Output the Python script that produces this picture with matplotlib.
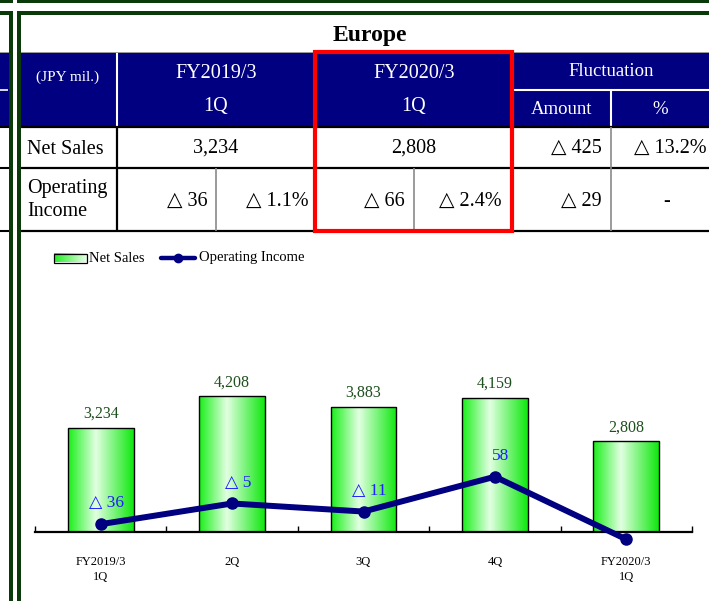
import numpy as np
import matplotlib
matplotlib.use("Agg")
import matplotlib.pyplot as plt
from matplotlib.colors import LinearSegmentedColormap
from matplotlib.patches import Rectangle

plt.rcParams['font.family'] = ['Liberation Serif', 'DejaVu Serif']

# ---------------- data ----------------
categories = ["FY2019/3\n1Q", "2Q", "3Q", "4Q", "FY2020/3\n1Q"]
net_sales = [3234, 4208, 3883, 4159, 2808]
operating_income = [-36, 5, -11, 58, -66]
net_sales_labels = ["3,234", "4,208", "3,883", "4,159", "2,808"]
oi_labels = ["△ 36", "△ 5", "△ 11", "58", "△ 66"]

title = "Europe"
table_unit = "(JPY mil.)"
col_prev = ["FY2019/3", "1Q"]
col_curr = ["FY2020/3", "1Q"]
col_fluct = "Fluctuation"
col_fluct_sub = ["Amount", "%"]
row_names = ["Net Sales", "Operating\nIncome"]
net_sales_row = ["3,234", "2,808", "△ 425", "△ 13.2%"]
oi_row = ["△ 36", "△ 1.1%", "△ 66", "△ 2.4%", "△ 29", "-"]

W, H = 709, 601
fig = plt.figure(figsize=(W / 100, H / 100), dpi=100)

# ---------------- overlay (table, frame, legend) ----------------
ov = fig.add_axes([0, 0, 1, 1], zorder=0)
ov.set_xlim(0, W)
ov.set_ylim(H, 0)
ov.axis('off')

DG = '#0a3a0a'
NAVY = '#000080'

def rect(x0, y0, x1, y1, fc, ec='none', lw=0, z=1):
    ov.add_patch(Rectangle((x0, y0), x1 - x0, y1 - y0, facecolor=fc,
                           edgecolor=ec, linewidth=lw, zorder=z))

def hline(y, x0, x1, c, lw, z=2):
    ov.plot([x0, x1], [y, y], color=c, lw=lw, solid_capstyle='butt', zorder=z)

def vline(x, y0, y1, c, lw, z=2):
    ov.plot([x, x], [y0, y1], color=c, lw=lw, solid_capstyle='butt', zorder=z)

# panel frames
rect(0, 0, 12.5, 3, DG)
rect(17, 0, W, 3, DG)
rect(0, 10.5, 12.5, 15, DG)
rect(17, 10.5, W, 15, DG)
rect(9, 10.5, 12.5, H, DG)
rect(17, 10.5, 21, H, DG)

# left partial panel table
rect(0, 51.5, 9, 53, '#9a9a9a')
rect(0, 53, 9, 126, NAVY)
hline(89.5, 0, 8, 'white', 1.2)
for yy in (127, 167.5, 230.5):
    hline(yy, 0, 9, 'black', 1.5)

# title
ov.text(370, 35, title, ha='center', va='center', fontsize=17,
        fontweight='bold', color='black')

# table header
rect(21, 51.5, W, 53, '#9a9a9a')
rect(21, 53, W, 126, NAVY)
vline(117, 53, 126, 'white', 1.5)
hline(89.5, 513, W, 'white', 1.5)
vline(611, 89.5, 126, 'white', 1.5)

ov.text(68, 77, table_unit, ha='center', va='center', fontsize=11, color='white')
ov.text(216, 73, col_prev[0], ha='center', va='center', fontsize=14.5, color='white')
ov.text(216, 106, col_prev[1], ha='center', va='center', fontsize=14.5, color='white')
ov.text(414, 73, col_curr[0], ha='center', va='center', fontsize=14.5, color='white')
ov.text(414, 106, col_curr[1], ha='center', va='center', fontsize=14.5, color='white')
ov.text(611, 72, col_fluct, ha='center', va='center', fontsize=13.5, color='white')
ov.text(562, 110, col_fluct_sub[0], ha='center', va='center', fontsize=13.5, color='white')
ov.text(660, 110, col_fluct_sub[1], ha='center', va='center', fontsize=13.5, color='white')

# table grid
for yy in (127, 167.5, 230.5):
    hline(yy, 21, W, 'black', 1.6)
vline(117, 127, 230.5, 'black', 1.6)
vline(216, 167.5, 230.5, '#8a8a8a', 1.2)
vline(414, 167.5, 230.5, '#8a8a8a', 1.2)
vline(611, 127, 230.5, '#8a8a8a', 1.2)

# table body text
ov.text(27, 149, row_names[0], ha='left', va='center', fontsize=14.5)
ov.text(27, 200, row_names[1], ha='left', va='center', fontsize=14.5, linespacing=1.25)
ov.text(216, 148, net_sales_row[0], ha='center', va='center', fontsize=14.5)
ov.text(414, 148, net_sales_row[1], ha='center', va='center', fontsize=14.5)
ov.text(602, 148, net_sales_row[2], ha='right', va='center', fontsize=14.5)
ov.text(707, 148, net_sales_row[3], ha='right', va='center', fontsize=14.5)
oi_x = [208, 309, 405, 502, 602]
for xx, s in zip(oi_x, oi_row[:5]):
    ov.text(xx, 201, s, ha='right', va='center', fontsize=14.5)
ov.text(667, 201, oi_row[5], ha='center', va='center', fontsize=14.5)

# red highlight box
ov.add_patch(Rectangle((315, 51.5), 197, 179, facecolor='none',
                       edgecolor='#ff0000', linewidth=3, zorder=5))

# legend
leg_cmap = LinearSegmentedColormap.from_list('lg', ['#22ee22', '#e8ffe8'])
ov.imshow(np.linspace(0, 1, 64)[None, :], cmap=leg_cmap, aspect='auto',
          extent=[54, 87, 262.5, 253.5], zorder=3)
ov.add_patch(Rectangle((54, 253.5), 33, 9, facecolor='none', edgecolor='black',
                       linewidth=0.9, zorder=4))
ov.text(89, 258, "Net Sales", ha='left', va='center', fontsize=10.5)
ov.plot([161, 195], [258, 258], color=NAVY, lw=3.2, solid_capstyle='round', zorder=3)
ov.plot([178], [258], 'o', color=NAVY, ms=6, zorder=4)
ov.text(199, 258, "Operating Income", ha='left', va='center', fontsize=10.5)
ov.set_xlim(0, W)
ov.set_ylim(H, 0)

# ---------------- chart ----------------
left_px, right_px, bottom_px, top_px = 35, 692, 532, 290
ax = fig.add_axes([left_px / W, (H - bottom_px) / H,
                   (right_px - left_px) / W, (bottom_px - top_px) / H], zorder=2)
ax.set_facecolor('none')
x = np.arange(len(categories))
bar_w = 0.5
ymax = (bottom_px - top_px) / 0.0323
ax.set_xlim(-0.5, len(categories) - 0.5)
ax.set_ylim(0, ymax)

bar_cmap = LinearSegmentedColormap.from_list(
    'bg', [(0, '#19f019'), (0.42, '#e2ffe2'), (1, '#10e810')])
grad = np.linspace(0, 1, 128)[None, :]
bars = ax.bar(x, net_sales, width=bar_w, facecolor='none', edgecolor='black',
              linewidth=1.0, zorder=3)
for b in bars:
    im = ax.imshow(grad, cmap=bar_cmap, aspect='auto', zorder=2,
                   extent=[b.get_x(), b.get_x() + b.get_width(), 0, b.get_height()])
    im.set_clip_path(b)
ax.set_xlim(-0.5, len(categories) - 0.5)
ax.set_ylim(0, ymax)

for xi, v, s in zip(x, net_sales, net_sales_labels):
    ax.annotate(s, (xi, v), xytext=(0, 10), textcoords='offset points',
                ha='center', va='center', fontsize=11.5, color='#1e4f1e')

for sp in ('left', 'right', 'top'):
    ax.spines[sp].set_visible(False)
ax.spines['bottom'].set_linewidth(1.6)
ax.spines['bottom'].set_zorder(4)
ax.set_yticks([])
ax.set_xticks(x)
ax.set_xticklabels(categories, fontsize=9, linespacing=1.35)
ax.tick_params(axis='x', which='major', length=0, pad=17)
ax.set_xticks(np.arange(-0.5, len(categories)), minor=True)
ax.tick_params(axis='x', which='minor', direction='in', length=4, width=1)

ax2 = ax.twinx()
ax2.set_ylim(-(bottom_px - 506) / 0.505, (506 - top_px) / 0.505)
ax2.axis('off')
ax2.plot(x, operating_income, color=NAVY, lw=4.3, marker='o', ms=8,
         clip_on=False, zorder=5)
for xi, v, s in zip(x, operating_income, oi_labels):
    ax2.annotate(s, (xi, v), xytext=(4.3, 15), textcoords='offset points',
                 ha='center', va='center', fontsize=12.5, color='#1f1fff')

fig.savefig('out.png', dpi=100)
